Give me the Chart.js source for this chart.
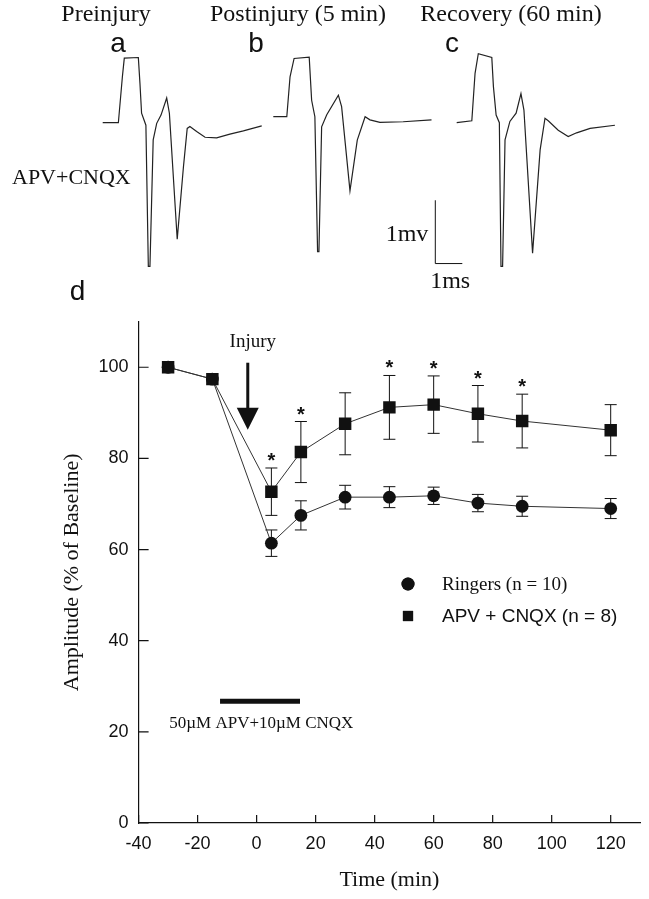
<!DOCTYPE html>
<html><head><meta charset="utf-8">
<script src="https://cdn.jsdelivr.net/npm/chart.js@4.4.1/dist/chart.umd.min.js"></script>
<style>
html,body{margin:0;padding:0;background:#fff;}
#wrap{position:relative;width:649px;height:899px;overflow:hidden;background:#fff;}
canvas{position:absolute;left:0;top:0;}
</style></head><body>
<div id="wrap">
<canvas id="main" width="649" height="899"></canvas>
<canvas id="traces" width="649" height="300"></canvas>
</div>
<script>
// ---------------- DATA ----------------
// panel d: amplitude (% of baseline) vs time (min)
const timeMin     = [-30, -15, 5, 15, 30, 45, 60, 75, 90, 120];
const ringersMean = [100, 97.4, 61.4, 67.5, 71.5, 71.5, 71.8, 70.2, 69.5, 69.0];
const ringersSem  = [0, 0, 2.9, 3.2, 2.6, 2.3, 1.9, 1.9, 2.2, 2.2];
const apvMean     = [100, 97.4, 72.7, 81.4, 87.6, 91.2, 91.8, 89.8, 88.2, 86.2];
const apvSem      = [0, 0, 5.2, 6.7, 6.8, 7.0, 6.3, 6.2, 5.9, 5.6];
const apvSignificant = [false, false, true, true, false, true, true, true, true, false];
const xTickValues = [-40, -20, 0, 20, 40, 60, 80, 100, 120];
const yTickValues = [0, 20, 40, 60, 80, 100];
const seriesLabels = ['Ringers (n = 10)', 'APV + CNQX (n = 8)'];
// drug application bar (min) and injury arrow
const drugBar = [-12.4, 14.7];
const drugLabel = '50\u00b5M APV+10\u00b5M CNQX';
const injuryTime = -3;

// panels a-c: field potential sweeps (ms from sweep start, mV from start baseline)
const preMs  = [0, 0.58, 0.73, 0.80, 1.32, 1.38, 1.44, 1.60, 1.69, 1.75, 1.87, 2.00, 2.16, 2.37, 2.47, 2.76, 2.99, 3.13, 3.23, 3.48, 3.79, 4.22, 4.71, 5.21, 5.89];
const preMv  = [0, 0, 0.73, 1.02, 1.03, 0.62, 0.15, -0.04, -2.27, -2.27, -0.27, -0.01, 0.12, 0.39, 0.15, -1.84, -0.70, -0.09, -0.06, -0.14, -0.23, -0.24, -0.18, -0.13, -0.05];
const postMs = [0, 0.50, 0.62, 0.77, 1.33, 1.42, 1.54, 1.64, 1.69, 1.79, 1.98, 2.41, 2.53, 2.84, 3.11, 3.40, 3.58, 3.95, 4.81, 5.86];
const postMv = [0, 0, 0.63, 0.92, 0.94, 0.26, 0, -2.13, -2.13, -0.16, 0.03, 0.34, 0.16, -1.17, -0.37, 0, -0.05, -0.09, -0.08, -0.05];
const recMs  = [0, 0.56, 0.68, 0.80, 1.30, 1.36, 1.46, 1.58, 1.64, 1.70, 1.79, 1.97, 2.20, 2.38, 2.49, 2.81, 3.09, 3.27, 3.39, 3.76, 4.13, 4.44, 4.94, 5.86];
const recMv  = [0, 0.03, 0.78, 1.09, 1.03, 0.57, 0.12, 0, -2.27, -2.27, -0.27, 0.02, 0.15, 0.46, 0.20, -2.06, -0.43, 0.07, 0.03, -0.12, -0.22, -0.16, -0.09, -0.04];
const sweepTitles = ['Preinjury', 'Postinjury (5 min)', 'Recovery (60 min)'];
const sweepLetters = ['a', 'b', 'c'];

// ---------------- STYLE / LAYOUT ----------------
const INK = '#111';
const SERIF = '"Liberation Serif", "Times New Roman", serif';
const SANS = '"Liberation Sans", Arial, sans-serif';
const toXY = (xs, ys) => xs.map((x, i) => ({x, y: ys[i]}));

function drawMarker(ctx, style, r, x, y) {
  ctx.save();
  ctx.fillStyle = INK;
  if (Chart.helpers && Chart.helpers.drawPoint) {
    Chart.helpers.drawPoint(ctx, {pointStyle: style, radius: r, rotation: 0, borderWidth: 0}, x, y);
    ctx.fill();
  } else {
    ctx.beginPath();
    if (style === 'circle') ctx.arc(x, y, r, 0, Math.PI * 2);
    else { const s = r * Math.SQRT1_2; ctx.rect(x - s, y - s, 2 * s, 2 * s); }
    ctx.fill();
  }
  ctx.restore();
}

const figurePlugin = {
  id: 'figureExtras',
  beforeDatasetsDraw(chart) {
    const {ctx, scales: {x, y}} = chart;
    ctx.save();
    ctx.strokeStyle = INK; ctx.lineWidth = 1;
    chart.data.datasets.forEach(ds => {
      ds.data.forEach((p, i) => {
        const e = ds.err[i];
        if (!e) return;
        const px = x.getPixelForValue(p.x);
        const t = y.getPixelForValue(p.y + e), b = y.getPixelForValue(p.y - e);
        ctx.beginPath();
        ctx.moveTo(px, t); ctx.lineTo(px, b);
        ctx.moveTo(px - 6, t); ctx.lineTo(px + 6, t);
        ctx.moveTo(px - 6, b); ctx.lineTo(px + 6, b);
        ctx.stroke();
      });
    });
    ctx.restore();
  },
  afterDraw(chart) {
    const {ctx, chartArea: ca, scales: {x, y}} = chart;
    ctx.save();
    // inward tick marks
    ctx.strokeStyle = INK; ctx.lineWidth = 1.2;
    ctx.beginPath();
    xTickValues.forEach(v => { const px = x.getPixelForValue(v); ctx.moveTo(px, ca.bottom); ctx.lineTo(px, ca.bottom - 8); });
    yTickValues.forEach(v => { const py = y.getPixelForValue(v); ctx.moveTo(ca.left, py); ctx.lineTo(ca.left + 10, py); });
    ctx.stroke();

    // significance asterisks
    const apv = chart.data.datasets[1];
    ctx.fillStyle = INK;
    ctx.font = 'bold 20px ' + SANS;
    ctx.textAlign = 'center'; ctx.textBaseline = 'alphabetic';
    apv.data.forEach((p, i) => {
      if (!apvSignificant[i]) return;
      const px = x.getPixelForValue(p.x);
      const top = y.getPixelForValue(p.y + apv.err[i]);
      ctx.fillText('*', px, top - 1);
    });

    // injury arrow
    const ax = x.getPixelForValue(injuryTime);
    const tipY = y.getPixelForValue(86.3);
    const shaftTop = y.getPixelForValue(101);
    ctx.lineWidth = 3;
    ctx.beginPath(); ctx.moveTo(ax, shaftTop); ctx.lineTo(ax, tipY - 18); ctx.stroke();
    ctx.beginPath();
    ctx.moveTo(ax - 11, tipY - 22); ctx.lineTo(ax + 11, tipY - 22); ctx.lineTo(ax, tipY); ctx.closePath();
    ctx.fill();
    ctx.font = '19px ' + SERIF;
    ctx.textBaseline = 'middle';
    ctx.fillText('Injury', x.getPixelForValue(-1.3), y.getPixelForValue(105.6));

    // drug application bar
    ctx.lineWidth = 5;
    const by = y.getPixelForValue(26.7);
    ctx.beginPath(); ctx.moveTo(x.getPixelForValue(drugBar[0]), by); ctx.lineTo(x.getPixelForValue(drugBar[1]), by); ctx.stroke();
    ctx.font = '17px ' + SERIF;
    ctx.fillText(drugLabel, x.getPixelForValue(1.6), y.getPixelForValue(21.8));

    // legend
    ctx.textAlign = 'left';
    drawMarker(ctx, 'circle', 6.5, 408, 584);
    drawMarker(ctx, 'rect', 7.2, 408, 616);
    ctx.fillStyle = INK;
    ctx.font = '19px ' + SERIF;
    ctx.fillText(seriesLabels[0], 442, 585);
    ctx.font = '19px ' + SANS;
    ctx.fillText(seriesLabels[1], 442, 617);

    // panel letter
    ctx.font = '28px ' + SANS;
    ctx.textAlign = 'center';
    ctx.fillText('d', 77.5, 292);
    ctx.restore();
  }
};

new Chart(document.getElementById('main'), {
  type: 'line',
  data: {
    datasets: [
      { label: seriesLabels[0], data: toXY(timeMin, ringersMean), err: ringersSem,
        pointStyle: 'circle', pointRadius: 6.4, pointBorderWidth: 0,
        pointBackgroundColor: INK, pointBorderColor: INK,
        borderColor: '#333', borderWidth: 1, fill: false, tension: 0, order: 2 },
      { label: seriesLabels[1], data: toXY(timeMin, apvMean), err: apvSem,
        pointStyle: 'rect', pointRadius: 8.8, pointBorderWidth: 0,
        pointBackgroundColor: INK, pointBorderColor: INK,
        borderColor: '#333', borderWidth: 1, fill: false, tension: 0, order: 1 }
    ]
  },
  options: {
    responsive: false, animation: false, devicePixelRatio: 1,
    layout: { padding: { left: 0, right: 6, top: 321.7, bottom: 0 } },
    plugins: { legend: { display: false }, tooltip: { enabled: false } },
    scales: {
      x: {
        type: 'linear', min: -40, max: 130,
        grid: { display: false, drawTicks: false },
        border: { display: true, color: INK, width: 1.2 },
        ticks: { stepSize: 20, includeBounds: false, padding: 10, color: INK, font: { family: SANS, size: 18 } },
        title: { display: true, text: 'Time (min)', color: INK, font: { family: SERIF, size: 22 }, padding: { top: 0, bottom: 6 } },
        afterFit: s => { s.height = 76; }
      },
      y: {
        type: 'linear', min: 0, max: 110,
        grid: { display: false, drawTicks: false },
        border: { display: true, color: INK, width: 1.2 },
        ticks: { stepSize: 20, includeBounds: false, padding: 10, color: INK, font: { family: SANS, size: 18 } },
        title: { display: true, text: 'Amplitude (% of Baseline)', color: INK, font: { family: SERIF, size: 22 }, padding: { top: 58.8, bottom: 0 } },
        afterFit: s => { s.width = 138.6; }
      }
    }
  },
  plugins: [figurePlugin]
});

// ---------------- SWEEPS (panels a-c) ----------------
const MS_PX = 27;      // pixels per ms (1 ms scale bar)
const MV_PX = 63.3;    // pixels per mV (1 mV scale bar)
const CW = 649, CH = 300;
const sweepOrigins = [[102.7, 122.7], [273.3, 116.7], [456.7, 122.7]]; // layout: where each sweep starts
const sx = o => ({ type: 'linear', display: false, min: -o[0] / MS_PX, max: (CW - o[0]) / MS_PX });
const sy = o => ({ type: 'linear', display: false, min: (o[1] - CH) / MV_PX, max: o[1] / MV_PX });

const sweepPlugin = {
  id: 'sweepExtras',
  afterDraw(chart) {
    const {ctx, scales} = chart;
    ctx.save();
    ctx.fillStyle = INK; ctx.strokeStyle = INK;
    ctx.font = '24px ' + SERIF;
    ctx.textAlign = 'center'; ctx.textBaseline = 'alphabetic';
    ctx.fillText(sweepTitles[0], 106, 21);
    ctx.fillText(sweepTitles[1], 298, 21);
    ctx.fillText(sweepTitles[2], 511, 21);
    ctx.font = '28px ' + SANS;
    ctx.textBaseline = 'middle';
    ctx.fillText(sweepLetters[0], 118, 44);
    ctx.fillText(sweepLetters[1], 256, 44);
    ctx.fillText(sweepLetters[2], 452, 44);
    ctx.font = '22px ' + SERIF;
    ctx.textAlign = 'left';
    ctx.fillText('APV+CNQX', 12, 178);
    // scale bar: 1 mV x 1 ms, in sweep b's data units
    const xb = scales.xb, yb = scales.yb;
    const t0 = 6.0, v0 = -2.32;
    ctx.lineWidth = 1;
    ctx.beginPath();
    ctx.moveTo(xb.getPixelForValue(t0), yb.getPixelForValue(v0 + 1));
    ctx.lineTo(xb.getPixelForValue(t0), yb.getPixelForValue(v0));
    ctx.lineTo(xb.getPixelForValue(t0 + 1), yb.getPixelForValue(v0));
    ctx.stroke();
    ctx.font = '24px ' + SERIF;
    ctx.textAlign = 'right';
    ctx.fillText('1mv', xb.getPixelForValue(t0) - 7, yb.getPixelForValue(v0 + 0.45));
    ctx.textAlign = 'center';
    ctx.fillText('1ms', xb.getPixelForValue(t0 + 0.55), yb.getPixelForValue(v0) + 18);
    ctx.restore();
  }
};

const sweepDs = (xs, ys, xid, yid) => ({
  data: toXY(xs, ys), xAxisID: xid, yAxisID: yid,
  borderColor: '#222', borderWidth: 1.2, pointRadius: 0, tension: 0, fill: false
});

new Chart(document.getElementById('traces'), {
  type: 'line',
  data: { datasets: [
    sweepDs(preMs, preMv, 'xa', 'ya'),
    sweepDs(postMs, postMv, 'xb', 'yb'),
    sweepDs(recMs, recMv, 'xc', 'yc')
  ]},
  options: {
    responsive: false, animation: false, devicePixelRatio: 1,
    layout: { padding: 0 },
    plugins: { legend: { display: false }, tooltip: { enabled: false } },
    scales: {
      xa: sx(sweepOrigins[0]), ya: sy(sweepOrigins[0]),
      xb: sx(sweepOrigins[1]), yb: sy(sweepOrigins[1]),
      xc: sx(sweepOrigins[2]), yc: sy(sweepOrigins[2])
    }
  },
  plugins: [sweepPlugin]
});
</script>
</body></html>
